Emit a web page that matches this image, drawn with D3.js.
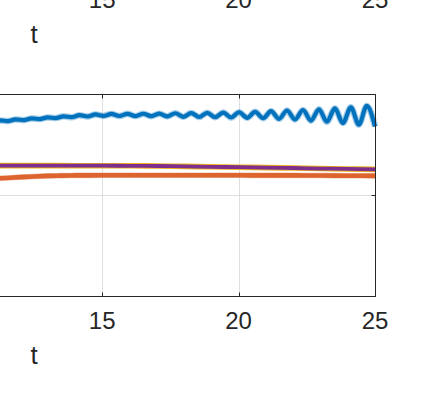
<!DOCTYPE html>
<html><head><meta charset="utf-8">
<script src="https://cdn.jsdelivr.net/npm/d3@7"></script>
<style>body{margin:0;background:#fff;overflow:hidden} svg{display:block}</style>
</head><body>
<svg id="c" width="423" height="393"></svg>
<script>
// ---- data ----
const xTicks = [0, 5, 10, 15, 20, 25];
const yTicks = [-1, 0, 1];
const xLabel = "t";

const tBlue = [10.95, 11.245, 11.5375, 11.83, 12.1225, 12.415, 12.7075, 13.0, 13.2925, 13.585, 13.8775, 14.17, 14.4625, 14.755, 15.0475, 15.34, 15.6325, 15.925, 16.2175, 16.51, 16.8025, 17.095, 17.3875, 17.68, 17.9725, 18.265, 18.5575, 18.85, 19.1425, 19.435, 19.7275, 20.02, 20.3125, 20.605, 20.8975, 21.19, 21.4825, 21.775, 22.0675, 22.36, 22.6525, 22.945, 23.2375, 23.53, 23.8225, 24.115, 24.4075, 24.70, 25.0];
const vBlue = [0.719, 0.734, 0.727, 0.744, 0.737, 0.754, 0.747, 0.764, 0.757, 0.775, 0.766, 0.786, 0.773, 0.793, 0.779, 0.798, 0.778, 0.799, 0.777, 0.800, 0.776, 0.801, 0.774, 0.805, 0.770, 0.807, 0.768, 0.809, 0.766, 0.812, 0.763, 0.815, 0.760, 0.819, 0.756, 0.825, 0.750, 0.832, 0.743, 0.837, 0.732, 0.844, 0.721, 0.853, 0.709, 0.863, 0.693, 0.877, 0.674];

const tOrange = [10.9, 11.5, 12, 12.5, 13, 13.5, 14, 15, 16, 17, 18, 19, 20, 21, 22, 23, 24, 25];
const vOrange = [0.158, 0.166, 0.174, 0.181, 0.186, 0.189, 0.191, 0.192, 0.193, 0.193, 0.193, 0.192, 0.192, 0.191, 0.191, 0.190, 0.188, 0.186];

const tYellow = [10.9, 12, 13, 14, 15, 16, 17, 18, 19, 20, 21, 22, 23, 24, 25];
const vYellow = [0.288, 0.288, 0.288, 0.287, 0.287, 0.286, 0.284, 0.280, 0.276, 0.272, 0.268, 0.264, 0.259, 0.255, 0.251];

const tPurple = [10.9, 12, 13, 14, 15, 16, 17, 18, 19, 20, 21, 22, 23, 24, 25];
const vPurple = [0.288, 0.288, 0.288, 0.287, 0.287, 0.286, 0.284, 0.280, 0.276, 0.272, 0.268, 0.264, 0.259, 0.255, 0.251];

// ---- drawing ----
const svg = d3.select("#c");
svg.append("rect").attr("width", 423).attr("height", 393).attr("fill", "#fff");

const x = d3.scaleLinear().domain([0, 25]).range([-307, 375]);
const y = d3.scaleLinear().domain([-1, 1]).range([296, 93.5]);
const font = "'Liberation Sans', Arial, Helvetica, sans-serif";
const axCol = "#262626";

function drawLabels(g) {
  g.selectAll(".tl").data(xTicks).enter().append("text")
    .attr("x", d => x(d)).attr("y", 329)
    .attr("text-anchor", "middle")
    .attr("font-family", font).attr("font-size", 24).attr("fill", axCol)
    .text(d => d);
  g.append("text").attr("x", (x(0) + x(25)) / 2).attr("y", 364)
    .attr("text-anchor", "middle")
    .attr("font-family", font).attr("font-size", 26).attr("fill", axCol)
    .text(xLabel);
}
// upper subplot (mostly off-screen): its tick labels and label peek in at the top
drawLabels(svg.append("g").attr("transform", "translate(0,-321.5)"));

const main = svg.append("g");
// grid
main.selectAll(".gx").data(xTicks).enter().append("line")
  .attr("x1", d => Math.round(x(d)) + 0.5).attr("x2", d => Math.round(x(d)) + 0.5)
  .attr("y1", y(1)).attr("y2", y(-1))
  .attr("stroke", "#dfdfdf").attr("stroke-width", 1);
main.selectAll(".gy").data(yTicks).enter().append("line")
  .attr("x1", x(0)).attr("x2", x(25))
  .attr("y1", d => Math.round(y(d)) + 0.5).attr("y2", d => Math.round(y(d)) + 0.5)
  .attr("stroke", "#dfdfdf").attr("stroke-width", 1);
drawLabels(main);

// series
const series = [
  {t: tBlue, v: vBlue, c: "#0072BD", w: 4.2, halo: 6.5, op: 1},
  {t: tOrange, v: vOrange, c: "#D95319", w: 4.6, halo: 5.6, op: 0.85},
  {t: tYellow, v: vYellow, c: "#EDB120", w: 5.6, halo: 0, op: 1},
  {t: tPurple, v: vPurple, c: "#7E2F8E", w: 3.8, halo: 0, op: 1}
];
const line = d3.line().x(d => x(d[0])).y(d => y(d[1])).curve(d3.curveMonotoneX);
series.forEach(s => {
  const pts = s.t.map((t, i) => [t, s.v[i]]);
  if (s.halo) {
    main.append("path").attr("d", line(pts)).attr("fill", "none")
      .attr("stroke", s.c).attr("stroke-opacity", 0.35).attr("stroke-width", s.halo)
      .attr("stroke-linejoin", "round");
  }
  main.append("path").attr("d", line(pts)).attr("fill", "none")
    .attr("stroke", s.c).attr("stroke-width", s.w).attr("stroke-opacity", s.op)
    .attr("stroke-linejoin", "round");
});

// box
const L = x(0), R = Math.round(x(25)) + 0.5, T = Math.round(y(1)) + 0.5, B = Math.round(y(-1)) + 0.5;
main.append("path").attr("d", `M${L},${T}H${R}V${B}H${L}Z`)
  .attr("fill", "none").attr("stroke", axCol).attr("stroke-width", 1);
// ticks (inward)
const tl = 4;
xTicks.forEach(d => {
  const xx = Math.round(x(d)) + 0.5;
  main.append("line").attr("x1", xx).attr("x2", xx).attr("y1", B).attr("y2", B - tl).attr("stroke", axCol);
  main.append("line").attr("x1", xx).attr("x2", xx).attr("y1", T).attr("y2", T + tl).attr("stroke", axCol);
});
yTicks.forEach(d => {
  const yy = Math.round(y(d)) + 0.5;
  main.append("line").attr("x1", R).attr("x2", R - tl).attr("y1", yy).attr("y2", yy).attr("stroke", axCol);
});
</script>
</body></html>
